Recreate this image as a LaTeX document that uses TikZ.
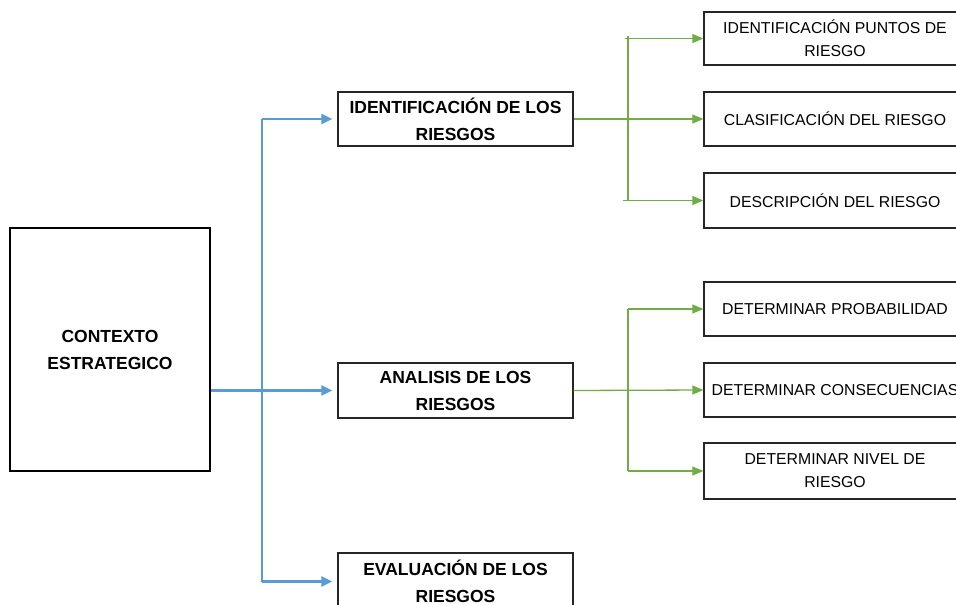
\documentclass[tikz,border=0pt]{standalone}
\usepackage{fontspec}
\setmainfont{Liberation Sans}
\usetikzlibrary{arrows.meta}
\definecolor{bl}{HTML}{5B9BD5}
\definecolor{gr}{HTML}{70AD47}
\tikzset{
  bigbox/.style={draw=black, line width=2.4pt, minimum width=200pt, minimum height=243pt, inner sep=0pt, align=center, font=\fontsize{17.5}{27}\selectfont\bfseries},
  midbox/.style={draw=black!85, line width=1.3pt, minimum width=235pt, inner sep=0pt, align=center, font=\fontsize{17.5}{27}\selectfont\bfseries},
  rbox/.style={draw=black!85, line width=1.3pt, minimum width=262pt, inner sep=0pt, align=center, font=\fontsize{15.8}{23}\selectfont},
  barrow/.style={draw=bl, line width=2.2pt, -{Triangle[length=11pt,width=10pt]}},
  bline/.style={draw=bl, line width=2.2pt},
  garrow/.style={draw=gr, line width=1.3pt, -{Triangle[length=11pt,width=9pt]}},
  gline/.style={draw=gr, line width=1.3pt}
}
\begin{document}
\begin{tikzpicture}[x=1pt,y=-1pt]
\clip (0,0) rectangle (956,605);
\fill[white] (0,0) rectangle (956,605);

\node[bigbox] (ctx) at (110,349.5) {CONTEXTO\\ESTRATEGICO};
\node[midbox, minimum height=54pt] (id) at (455.5,119) {IDENTIFICACIÓN DE LOS\\RIESGOS};
\node[midbox, minimum height=55pt] (an) at (455.5,390.5) {ANALISIS DE LOS\\RIESGOS};
\node[midbox, minimum height=57pt] (ev) at (455.5,581.5) {EVALUACIÓN DE LOS\\RIESGOS};

\node[rbox, minimum height=53pt] (r1) at (835,38.5) {IDENTIFICACIÓN PUNTOS DE\\RIESGO};
\node[rbox, minimum height=54pt] (r2) at (835,119) {CLASIFICACIÓN DEL RIESGO};
\node[rbox, minimum height=55pt] (r3) at (835,200.5) {DESCRIPCIÓN DEL RIESGO};
\node[rbox, minimum height=54pt] (r4) at (835,309) {DETERMINAR PROBABILIDAD};
\node[rbox, minimum height=54pt] (r5) at (835,390) {DETERMINAR CONSECUENCIAS};
\node[rbox, minimum height=56pt] (r6) at (835,471) {DETERMINAR NIVEL DE\\RIESGO};

% blue connectors
\coordinate (bt) at (262,119);
\coordinate (bb) at (262,581.5);
\draw[bline] (bt) -- (bb);
\draw[barrow, shorten >=5pt] (bt) -- (id.west);
\draw[barrow, shorten >=5pt] (ctx.east |- an.west) -- (an.west);
\draw[barrow, shorten >=5pt] (bb) -- (ev.west);

% green connectors, upper group
\coordinate (g1t) at (628,36);
\coordinate (g1b) at (628,201);
\draw[gline] (g1t) -- (g1b);
\draw[garrow] (id.east) -- (r2.west);
\draw[garrow] (625,38.5) -- (r1.west);
\draw[garrow] (623,200.5) -- (r3.west);

% green connectors, lower group
\coordinate (g2t) at (628,309);
\coordinate (g2b) at (628,471);
\draw[gline] (g2t) -- (g2b);
\draw[garrow] (an.east) -- (r5.west);
\draw[garrow] (g2t) -- (r4.west);
\draw[garrow] (g2b) -- (r6.west);
\end{tikzpicture}
\end{document}
